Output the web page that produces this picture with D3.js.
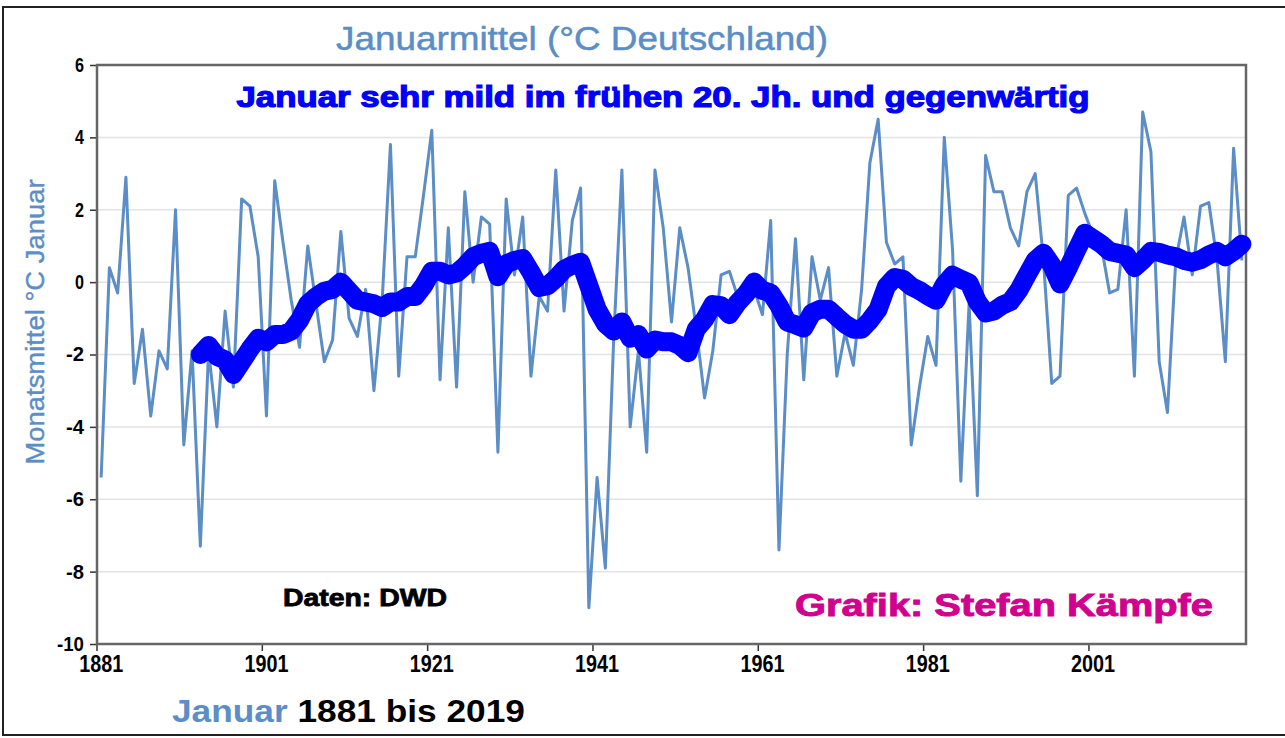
<!DOCTYPE html>
<html>
<head>
<meta charset="utf-8">
<script src="https://cdn.jsdelivr.net/npm/d3@7"></script>
<style>
  html, body { margin: 0; padding: 0; background: #fff; }
  svg { display: block; }
  .lbl { font-family: "Liberation Sans", Arial, sans-serif; font-weight: bold; }
</style>
</head>
<body>
<svg id="chart"></svg>
<script>
// January mean temperature Germany (DWD), 1881-2019
const firstYear = 1881;
const lastYear = 2019;
const januaryMean = [
  -5.4, 0.4, -0.3, 2.9, -2.8, -1.3, -3.7, -1.9, -2.4, 2.0,   // 1881-1890
  -4.5, -1.9, -7.3, -1.9, -4.0, -0.8, -2.9, 2.3, 2.1, 0.7,   // 1891-1900
  -3.7, 2.8, 1.1, -0.5, -1.8, 1.0, -0.6, -2.2, -1.6, 1.4,    // 1901-1910
  -1.0, -1.5, -0.2, -3.0, -0.5, 3.8, -2.6, 0.7, 0.7, 2.4,    // 1911-1920
  4.2, -2.7, 1.5, -2.9, 2.5, 0.0, 1.8, 1.6, -4.7, 2.3,       // 1921-1930
  0.2, 1.8, -2.6, -0.4, -0.8, 3.1, -0.8, 1.7, 2.6, -9.0,     // 1931-1940
  -5.4, -7.9, -1.6, 3.1, -4.0, -1.9, -4.7, 3.1, 1.5, -1.1,   // 1941-1950
  1.5, 0.4, -1.3, -3.2, -1.9, 0.2, 0.3, -0.4, -0.6, -0.2,    // 1951-1960
  -0.9, 1.7, -7.4, -2.0, 1.2, -2.7, 0.7, -0.5, 0.4, -2.6,    // 1961-1970
  -1.4, -2.3, -0.2, 3.3, 4.5, 1.1, 0.5, 0.7, -4.5, -2.9,     // 1971-1980
  -1.5, -2.3, 4.0, 0.9, -5.5, -0.6, -5.9, 3.5, 2.5, 2.5,     // 1981-1990
  1.5, 1.0, 2.5, 3.0, 0.6, -2.8, -2.6, 2.4, 2.6, 1.9,        // 1991-2000
  1.3, 1.0, -0.3, -0.2, 2.0, -2.6, 4.7, 3.6, -2.2, -3.6,     // 2001-2010
  0.6, 1.8, 0.2, 2.1, 2.2, 0.6, -2.2, 3.7, 0.6               // 2011-2019
];

// smoothed curve (thick blue), 1893-2019
const smoothStart = 1893;
const smoothMean = [
  -2.0, -1.75, -2.05, -2.15, -2.55, -2.2, -1.85, -1.55,                 // 1893-1900
  -1.65, -1.45, -1.45, -1.35, -1.05, -0.6, -0.4, -0.25, -0.2, 0.0,      // 1901-1910
  -0.25, -0.5, -0.55, -0.6, -0.7, -0.55, -0.55, -0.4, -0.4, -0.1,       // 1911-1920
  0.3, 0.3, 0.2, 0.25, 0.45, 0.7, 0.8, 0.85, 0.15, 0.5,                 // 1921-1930
  0.6, 0.65, 0.27, -0.15, -0.1, 0.1, 0.35, 0.47, 0.55, -0.1,            // 1931-1940
  -0.75, -1.15, -1.35, -1.1, -1.55, -1.45, -1.85, -1.6, -1.65, -1.65,   // 1941-1950
  -1.75, -1.95, -1.3, -1.03, -0.62, -0.65, -0.9, -0.57, -0.33, 0.0,     // 1951-1960
  -0.23, -0.3, -0.65, -1.1, -1.18, -1.27, -0.85, -0.75, -0.75, -0.96,   // 1961-1970
  -1.16, -1.3, -1.3, -1.06, -0.75, -0.12, 0.13, 0.08, -0.12, -0.23,     // 1971-1980
  -0.38, -0.5, -0.07, 0.19, 0.08, -0.02, -0.54, -0.85, -0.8, -0.64,     // 1981-1990
  -0.54, -0.23, 0.19, 0.6, 0.8, 0.47, -0.05, 0.4, 0.88, 1.35,           // 1991-2000
  1.2, 1.05, 0.85, 0.8, 0.75, 0.4, 0.6, 0.85, 0.82, 0.75,               // 2001-2010
  0.7, 0.6, 0.55, 0.62, 0.75, 0.85, 0.7, 0.85, 1.05                     // 2011-2019
];

const yTicks = [-10, -8, -6, -4, -2, 0, 2, 4, 6];
const xLabelYears = [1881, 1901, 1921, 1941, 1961, 1981, 2001];

const width = 1285, height = 738;
const plot = { left: 97, right: 1246, top: 65, bottom: 644 };

const years = d3.range(firstYear, lastYear + 1);
const rawData = years.map((yr, i) => ({ year: yr, value: januaryMean[i] }));
const smoothData = smoothMean.map((v, i) => ({ year: smoothStart + i, value: v }));

const svg = d3.select("#chart")
  .attr("width", width)
  .attr("height", height)
  .attr("viewBox", [0, 0, width, height]);

// outer frame
svg.append("rect")
  .attr("x", 3).attr("y", 7)
  .attr("width", width + 10).attr("height", 728)
  .attr("fill", "#fff")
  .attr("stroke", "#222")
  .attr("stroke-width", 2);

// category axis: one band per year, labels at band centres
const x = d3.scaleBand()
  .domain(years)
  .range([plot.left, plot.right])
  .padding(0);
const xc = (yr) => x(yr) + x.bandwidth() / 2;

const y = d3.scaleLinear()
  .domain([-10, 6])
  .range([plot.bottom, plot.top]);

// gridlines
svg.append("g")
  .selectAll("line")
  .data(yTicks.filter((d) => d > -10 && d < 6))
  .join("line")
  .attr("x1", plot.left).attr("x2", plot.right)
  .attr("y1", (d) => y(d)).attr("y2", (d) => y(d))
  .attr("stroke", "#e3e3e3")
  .attr("stroke-width", 1.5);

// y axis
const yAxis = svg.append("g")
  .attr("transform", `translate(${plot.left},0)`)
  .call(d3.axisLeft(y).tickValues(yTicks).tickSize(7).tickPadding(6)
    .tickFormat((d) => String(d)));
yAxis.select(".domain").remove();
yAxis.selectAll(".tick line").attr("stroke", "#333").attr("stroke-width", 1.5);
yAxis.selectAll(".tick text")
  .attr("class", "lbl")
  .attr("fill", "#000")
  .style("font-size", "20px")
  .attr("textLength", (d) => String(d).length * 9)
  .attr("lengthAdjust", "spacingAndGlyphs");

// x axis: tick marks at category boundaries every 20 years
svg.append("g")
  .selectAll("line")
  .data(xLabelYears)
  .join("line")
  .attr("x1", (yr) => x(yr))
  .attr("x2", (yr) => x(yr))
  .attr("y1", plot.bottom)
  .attr("y2", plot.bottom + 7)
  .attr("stroke", "#333")
  .attr("stroke-width", 1.5);

const xAxis = svg.append("g")
  .attr("transform", `translate(0,${plot.bottom})`)
  .call(d3.axisBottom(x).tickValues(xLabelYears).tickSize(0).tickPadding(11));
xAxis.select(".domain").remove();
xAxis.selectAll(".tick text")
  .attr("class", "lbl")
  .attr("fill", "#000")
  .style("font-size", "24px")
  .attr("textLength", 44)
  .attr("lengthAdjust", "spacingAndGlyphs");

// plot area border
svg.append("rect")
  .attr("x", plot.left).attr("y", plot.top)
  .attr("width", plot.right - plot.left)
  .attr("height", plot.bottom - plot.top)
  .attr("fill", "none")
  .attr("stroke", "#666")
  .attr("stroke-width", 2.5);

const line = d3.line()
  .x((d) => xc(d.year))
  .y((d) => y(d.value));

// raw January means
svg.append("path")
  .datum(rawData)
  .attr("d", line)
  .attr("fill", "none")
  .attr("stroke", "#5b8dc6")
  .attr("stroke-width", 3)
  .attr("stroke-linejoin", "round");

// smoothed curve
svg.append("path")
  .datum(smoothData)
  .attr("d", line)
  .attr("fill", "none")
  .attr("stroke", "#0000ff")
  .attr("stroke-width", 19)
  .attr("stroke-linejoin", "round")
  .attr("stroke-linecap", "round");

// texts
function label(txt, opts) {
  const t = svg.append("text")
    .attr("class", "lbl")
    .attr("x", opts.x).attr("y", opts.y)
    .attr("text-anchor", opts.anchor || "start")
    .attr("fill", opts.color)
    .style("font-size", opts.size + "px")
    .attr("textLength", opts.len)
    .attr("lengthAdjust", "spacingAndGlyphs")
    .text(txt);
  if (opts.weight) t.style("font-weight", opts.weight);
  if (opts.stroke) t.style("stroke", opts.color).style("stroke-width", opts.stroke);
  if (opts.transform) t.attr("transform", opts.transform);
  return t;
}

label("Januarmittel (°C Deutschland)", {
  x: 582, y: 50, anchor: "middle", color: "#5b8dc6", size: 34, len: 492, weight: "normal", stroke: 0.5
});
label("Januar sehr mild im frühen 20. Jh. und gegenwärtig", {
  x: 663, y: 107, anchor: "middle", color: "#0000ff", size: 30, len: 853, stroke: 1.2
});
label("Daten: DWD", {
  x: 283, y: 606, color: "#000", size: 23, len: 164, stroke: 0.8
});
label("Grafik: Stefan Kämpfe", {
  x: 795, y: 616, color: "#d1008e", size: 31, len: 418, stroke: 0.9
});
label("Monatsmittel °C Januar", {
  x: 0, y: 0, anchor: "middle", color: "#5b8dc6", size: 26, len: 285, weight: "normal", stroke: 0.4,
  transform: "translate(44,322) rotate(-90)"
});

const foot = svg.append("text")
  .attr("class", "lbl")
  .attr("x", 172).attr("y", 722)
  .style("font-size", "31px")
  .attr("textLength", 353)
  .attr("lengthAdjust", "spacingAndGlyphs");
foot.append("tspan").attr("fill", "#5b8dc6").text("Januar ");
foot.append("tspan").attr("fill", "#000").text("1881 bis 2019");
</script>
</body>
</html>
